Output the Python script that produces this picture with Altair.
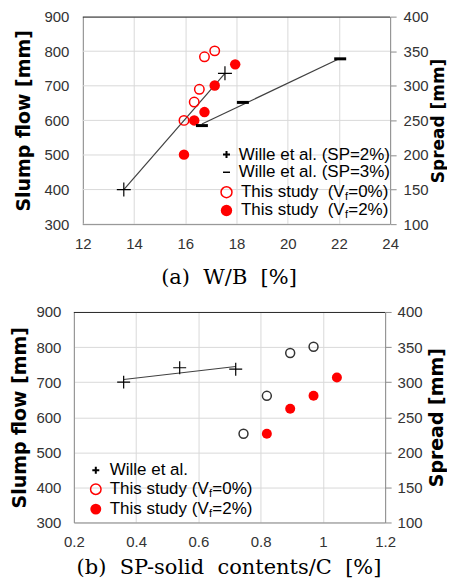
import altair as alt
import pandas as pd

# ---------------- data ----------------
# (a) W/B [%] vs slump flow [mm]
a_wille_sp2_x = [13.6, 17.55]
a_wille_sp2_y = [400, 736]
a_wille_sp3_x = [16.65, 18.25, 22.05]
a_wille_sp3_y = [585, 652, 778]
a_study_v0_x = [15.95, 16.35, 16.55, 16.75, 17.15]
a_study_v0_y = [600, 653, 690, 784, 801]
a_study_v2_x = [15.95, 16.35, 16.75, 17.15, 17.95]
a_study_v2_y = [501, 600, 624, 701, 762]

# (b) SP-solid contents/C [%] vs slump flow [mm]
b_wille_x = [0.36, 0.54, 0.72]
b_wille_y = [700, 741, 737]
b_study_v0_x = [0.745, 0.82, 0.895, 0.97]
b_study_v0_y = [553, 661, 783, 801]
b_study_v2_x = [0.82, 0.895, 0.97, 1.045]
b_study_v2_y = [553, 624, 661, 713]

a_x_ticks = [12, 14, 16, 18, 20, 22, 24]
b_x_ticks = [0.2, 0.4, 0.6, 0.8, 1.0, 1.2]
flow_ticks = [300, 400, 500, 600, 700, 800, 900]
spread_ticks = [100, 150, 200, 250, 300, 350, 400]

a_caption = "(a)\u00a0\u00a0W/B\u00a0\u00a0[%]"
b_caption = "(b)\u00a0\u00a0SP-solid\u00a0\u00a0contents/C\u00a0\u00a0[%]"
left_title = "Slump flow [mm]"
right_title = "Spread [mm]"

a_legend_wille = ["Wille et al. (SP=2%)", "Wille et al. (SP=3%)"]
a_legend_study = [("This study\u00a0\u00a0(V", "f", "=0%)"), ("This study\u00a0\u00a0(V", "f", "=2%)")]
b_legend_wille = "Wille et al."
b_legend_study = [("This study (V", "f", "=0%)"), ("This study (V", "f", "=2%)")]

# ---------------- style ----------------
SANS = "Liberation Sans"
TITLE_FONT = "DejaVu Sans"
SERIF = "DejaVu Serif"
GRID = "#d9d9d9"
DOMAIN = "#8c8c8c"
LABEL = "#333333"
LINE = "#404040"
RED = "#ff0000"
PLUS = "M-1,0H1M0,-1V1"
DASH = "M-1,-0.25H1V0.25H-1Z"

one = pd.DataFrame({"k": [0]})


def df(x, y):
    return pd.DataFrame({"x": x, "y": y})


def encs(c):
    x = alt.X("x:Q", scale=alt.Scale(domain=c["xdom"], range=c["xrange"], nice=False, zero=False),
              axis=alt.Axis(values=c["xticks"], format=c["xfmt"], title=c["caption"],
                            titleFont=SERIF, titleFontSize=21, titleFontWeight="normal",
                            titleColor="black", titlePadding=c["cap_pad"], titleX=c["cap_x"],
                            labelFont=SANS, labelFontSize=15, labelColor=LABEL,
                            labelPadding=12, labelFlush=False, labelOverlap=False,
                            ticks=False, domain=c["xdomain_line"], domainColor=DOMAIN, domainWidth=1,
                            grid=True, gridColor=GRID, gridWidth=1))
    y = alt.Y("y:Q", scale=alt.Scale(domain=[flow_ticks[0], flow_ticks[-1]], nice=False, zero=False),
              axis=alt.Axis(values=flow_ticks, format="d", title=left_title, offset=c["y_offset"],
                            titleFont=TITLE_FONT, titleFontSize=c["yt_size"], titleFontWeight="bold",
                            titleColor="black", titlePadding=c["yt_pad"],
                            labelFont=SANS, labelFontSize=15, labelColor=LABEL,
                            labelPadding=c["yl_pad"], labelFlush=False, labelOverlap=False,
                            ticks=False, domainColor=DOMAIN, domainWidth=1,
                            grid=c["ygrid"], gridColor=GRID, gridWidth=1))
    return x, y


def right_axis(c):
    return alt.Chart(pd.DataFrame({"s": spread_ticks})).mark_point(opacity=0).encode(
        y=alt.Y("s:Q", scale=alt.Scale(domain=[spread_ticks[0], spread_ticks[-1]], nice=False, zero=False),
                axis=alt.Axis(orient="right", values=spread_ticks, format="d", title=right_title,
                              titleFont=TITLE_FONT, titleFontSize=c["rt_size"], titleFontWeight="bold",
                              titleColor="black", titleAngle=270, titleBaseline="top",
                              titlePadding=c["rt_pad"],
                              labelFont=SANS, labelFontSize=15, labelColor=LABEL,
                              labelPadding=c["rl_pad"], labelFlush=False, labelOverlap=False,
                              ticks=True, tickSize=6, tickColor=DOMAIN, tickWidth=1,
                              domainColor=DOMAIN, domainWidth=1, grid=False))
    )


def sym(shape, px, py, size, filled, color, sw):
    return alt.Chart(one).mark_point(shape=shape, size=size, filled=filled, color=color,
                                     strokeWidth=sw, opacity=1).encode(
        x=alt.value(px), y=alt.value(py))


def txt(s, px, py, fs=17):
    return alt.Chart(one).mark_text(text=s, align="left", baseline="middle", font=SANS,
                                    fontSize=fs, color="black").encode(
        x=alt.value(px), y=alt.value(py))


def sub_txt(parts, px, py):
    main, sub, rest = parts
    w_main = 0.0
    widths = {"T": .611, "h": .556, "i": .222, "s": .5, " ": .278, "\u00a0": .278, "t": .278,
              "u": .556, "d": .556, "y": .5, "(": .333, "V": .667}
    for ch in main:
        w_main += widths.get(ch, .556) * 17
    return [txt(main, px, py),
            txt(sub, px + w_main + 0.3, py + 4.5, fs=11),
            txt(rest, px + w_main + 3.6, py)]


def hrule(x0, x1, y, color):
    return alt.Chart(one).mark_rule(color=color, strokeWidth=1).encode(
        x=alt.value(x0), x2=alt.value(x1), y=alt.value(y))


def anchor(px, py):
    # white (invisible on the white page) marker fixing the panel's top-left corner
    return alt.Chart(one).mark_rule(color="white", strokeWidth=1).encode(
        x=alt.value(px), x2=alt.value(px + 1), y=alt.value(py))


# ---------------- panel (a) ----------------
# view spans page x 73..390, plot area (scale range) 82..390
ca = dict(xdom=[12, 24], xrange=[9, 317], xticks=a_x_ticks, xfmt="d", caption=a_caption,
          cap_pad=15, cap_x=155, xdomain_line=False, y_offset=-9, ygrid=False,
          yt_size=19, yt_pad=10, yl_pad=14, rt_size=17, rt_pad=2, rl_pad=7, w=317, h=208)
Xa, Ya = encs(ca)
layers_a = [
    alt.Chart(pd.DataFrame({"y": flow_ticks})).mark_rule(color=GRID, strokeWidth=1).encode(
        y=Ya, x=alt.value(9), x2=alt.value(317)),
    hrule(9, 317, 208.5, DOMAIN),
    alt.Chart(df(a_wille_sp2_x, a_wille_sp2_y)).transform_regression("x", "y")
    .mark_line(color=LINE, strokeWidth=1.2).encode(x=Xa, y=Ya),
    alt.Chart(df(a_wille_sp3_x, a_wille_sp3_y)).transform_regression("x", "y")
    .mark_line(color=LINE, strokeWidth=1.2).encode(x=Xa, y=Ya),
    alt.Chart(df(a_study_v0_x, a_study_v0_y)).mark_point(
        shape="circle", size=90, filled=False, color=RED, strokeWidth=1.5, opacity=1).encode(x=Xa, y=Ya),
    alt.Chart(df(a_study_v2_x, a_study_v2_y)).mark_point(
        shape="circle", size=110, filled=True, color=RED, opacity=1).encode(x=Xa, y=Ya),
    alt.Chart(df(a_wille_sp2_x, a_wille_sp2_y)).mark_point(
        shape=PLUS, size=196, filled=False, color="black", strokeWidth=1.2, opacity=1).encode(x=Xa, y=Ya),
    alt.Chart(df(a_wille_sp3_x, a_wille_sp3_y)).mark_point(
        shape=DASH, size=144, filled=True, color="black", opacity=1).encode(x=Xa, y=Ya),
    hrule(9, 317, 0.5, "#262626"),
    anchor(-65, -7.5),
    sym(PLUS, 153, 138.3, 49, False, "black", 2),
    txt(a_legend_wille[0], 165.3, 138.3),
    sym("M-1,0H1", 153, 156, 49, False, "black", 1.5),
    txt(a_legend_wille[1], 165.3, 156),
    sym("circle", 153, 176, 120, False, RED, 1.5),
    sym("circle", 153, 194.3, 130, True, RED, 0),
]
layers_a += sub_txt(a_legend_study[0], 167.5, 176)
layers_a += sub_txt(a_legend_study[1], 167.5, 194.3)
panel_a = alt.layer(alt.layer(*layers_a), right_axis(ca)).resolve_scale(y="independent").properties(
    width=ca["w"], height=ca["h"])

# ---------------- panel (b) ----------------
cb = dict(xdom=[0.2, 1.2], xrange=[0, 312], xticks=b_x_ticks, xfmt=".1~f", caption=b_caption,
          cap_pad=7, cap_x=155, xdomain_line=True, y_offset=0, ygrid=True,
          yt_size=19, yt_pad=6, yl_pad=13, rt_size=19, rt_pad=5, rl_pad=6, w=312, h=211)
Xb, Yb = encs(cb)
layers_b = [
    alt.Chart(df(b_wille_x, b_wille_y)).transform_regression("x", "y")
    .mark_line(color=LINE, strokeWidth=1.2).encode(x=Xb, y=Yb),
    alt.Chart(df(b_study_v0_x, b_study_v0_y)).mark_point(
        shape="circle", size=80, filled=False, color="#333333", strokeWidth=1.5, opacity=1).encode(x=Xb, y=Yb),
    alt.Chart(df(b_study_v2_x, b_study_v2_y)).mark_point(
        shape="circle", size=100, filled=True, color=RED, opacity=1).encode(x=Xb, y=Yb),
    alt.Chart(df(b_wille_x, b_wille_y)).mark_point(
        shape=PLUS, size=169, filled=False, color="black", strokeWidth=1.2, opacity=1).encode(x=Xb, y=Yb),
    hrule(0, 312, 0.5, "#262626"),
    anchor(-65, -7.5),
    sym(PLUS, 22, 158.6, 49, False, "black", 2),
    txt(b_legend_wille, 36, 158.6),
    sym("circle", 22, 177.6, 110, False, RED, 1.5),
    sym("circle", 22, 197.6, 120, True, RED, 0),
]
layers_b += sub_txt(b_legend_study[0], 36, 177.6)
layers_b += sub_txt(b_legend_study[1], 36, 197.6)
panel_b = alt.layer(alt.layer(*layers_b), right_axis(cb)).resolve_scale(y="independent").properties(
    width=cb["w"], height=cb["h"])

chart = alt.vconcat(panel_a, panel_b, spacing=17).properties(
    padding={"left": 0, "top": 0, "right": 0, "bottom": 0}
).configure_view(stroke=None)

chart.save("out.html", embed_options={"renderer": "svg", "actions": False})
